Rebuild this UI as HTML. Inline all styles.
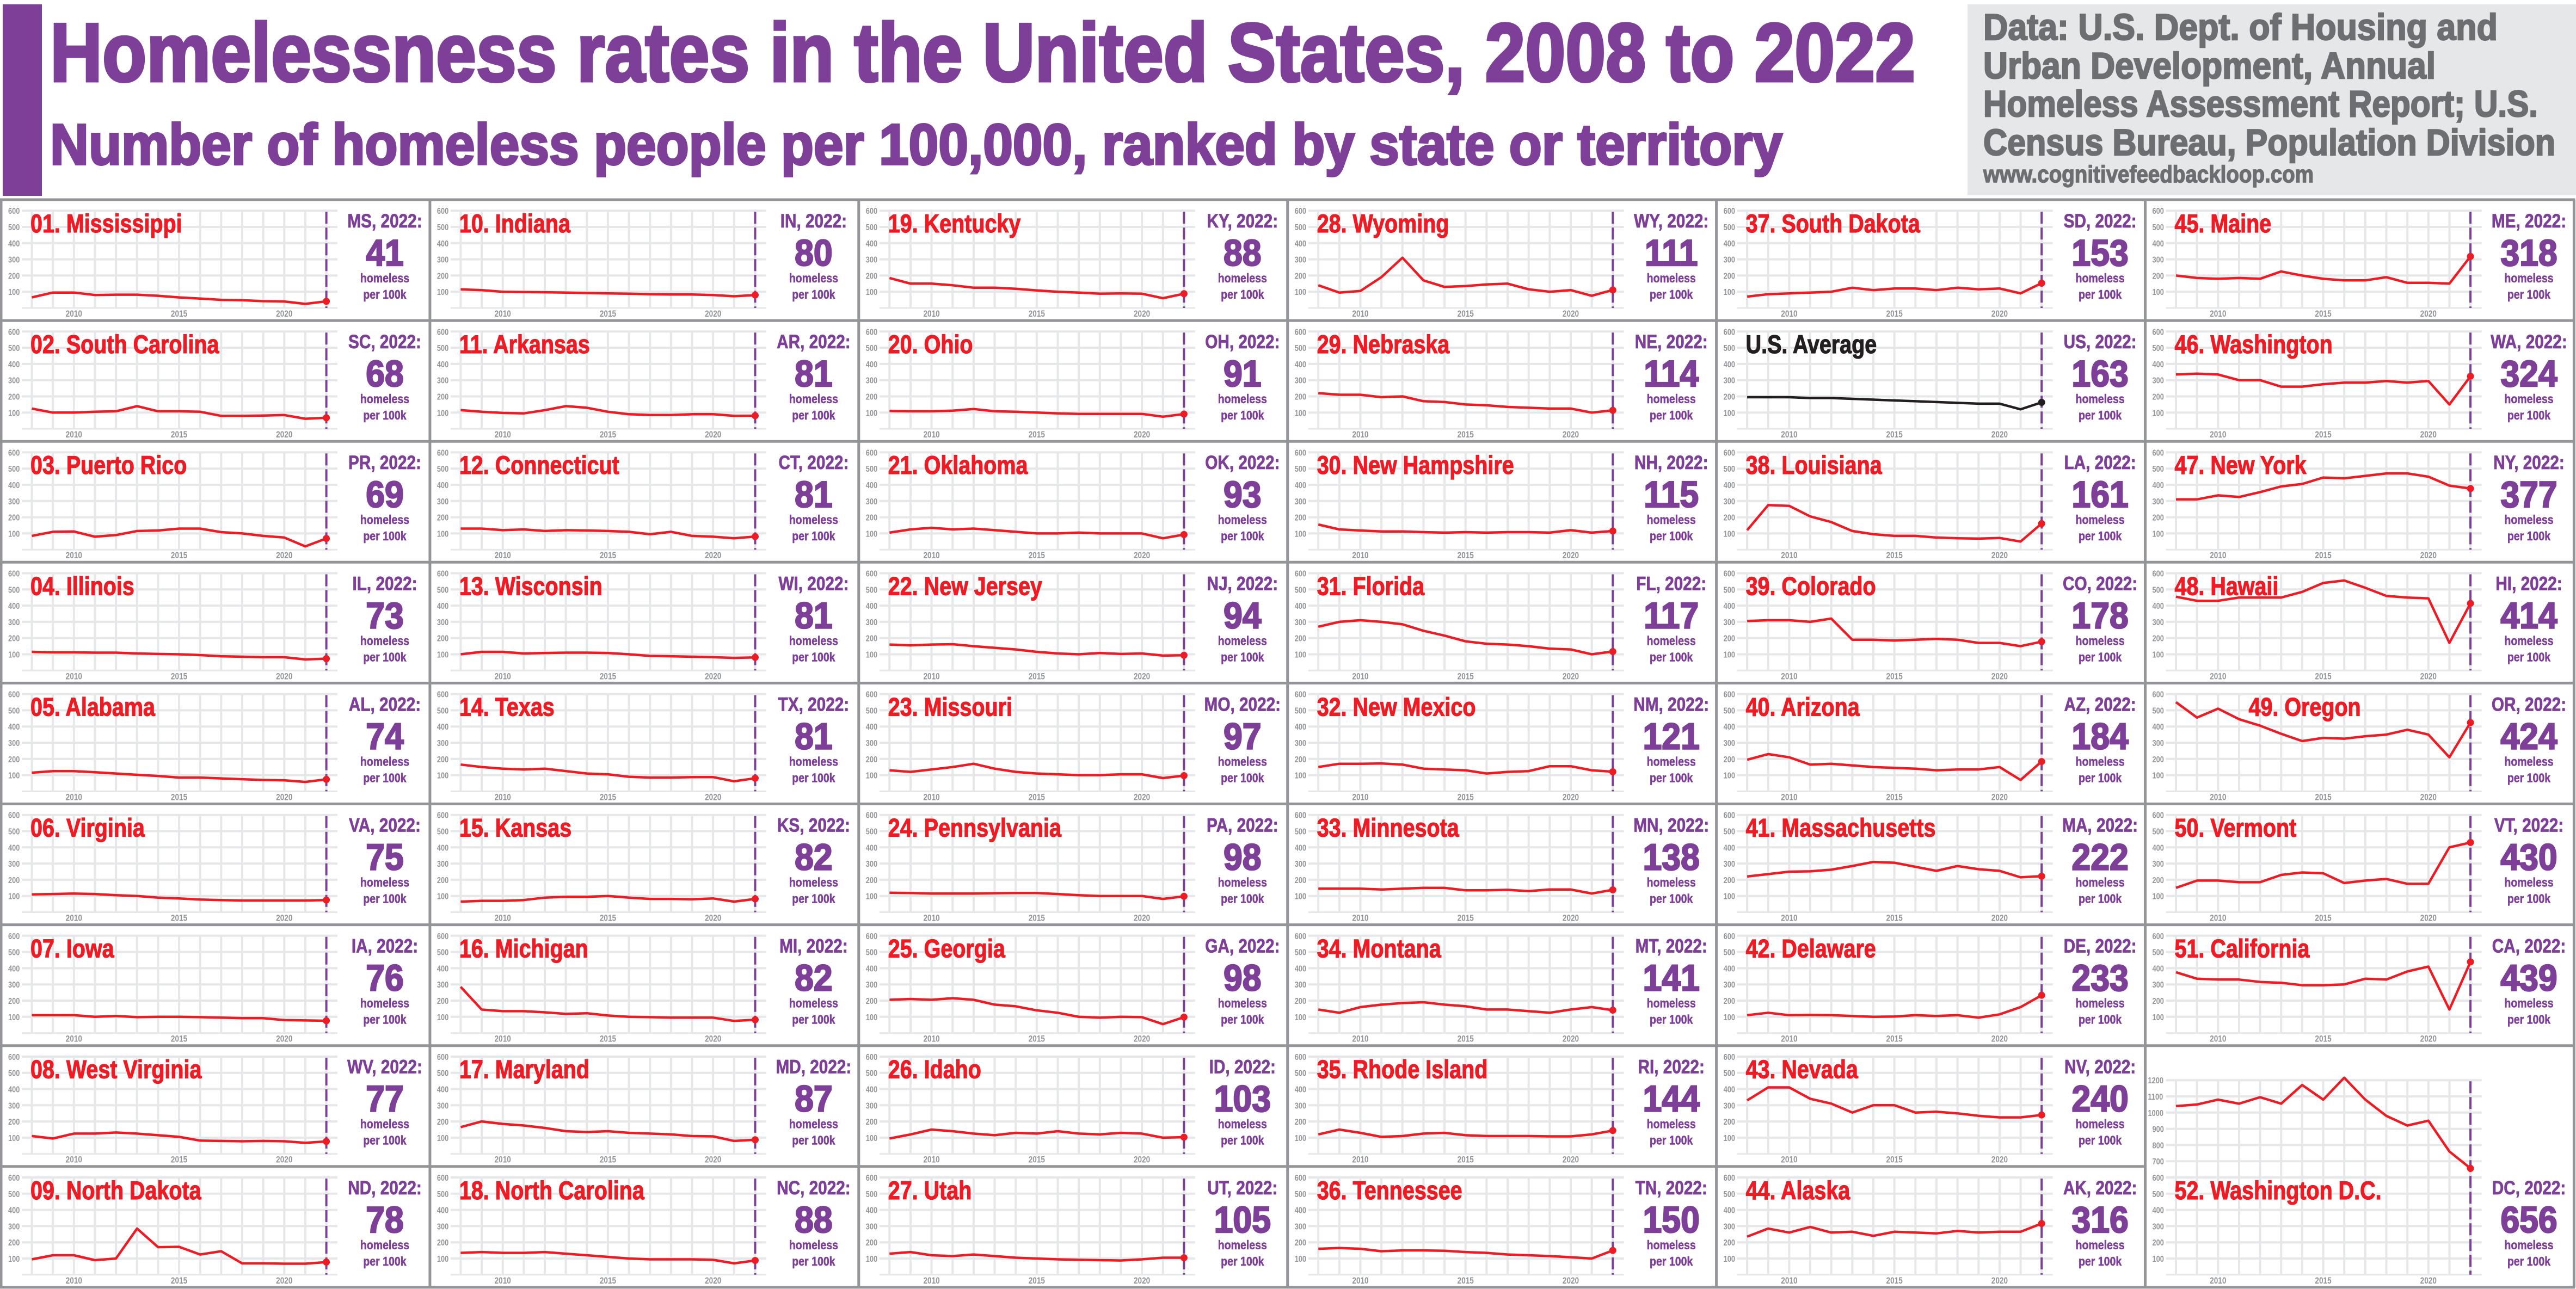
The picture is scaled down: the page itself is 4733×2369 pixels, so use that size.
<!DOCTYPE html>
<html><head><meta charset="utf-8"><style>
html,body{margin:0;padding:0;background:#fff;}
svg{display:block;}
text{font-family:"Liberation Sans",sans-serif;font-weight:bold;}
</style></head><body>
<svg id="s" xmlns="http://www.w3.org/2000/svg" width="4733" height="2369" viewBox="0 0 4733 2369">
<rect x="0" y="0" width="4733" height="2369" fill="#fff"/>
<rect x="5" y="8" width="72" height="352" fill="#7d3f98"/>
<text x="92" y="149" font-size="152" fill="#7d3f98" stroke="#7d3f98" stroke-width="5" textLength="3427" lengthAdjust="spacingAndGlyphs">Homelessness rates in the United States, 2008 to 2022</text>
<text x="92" y="302" font-size="106" fill="#7d3f98" stroke="#7d3f98" stroke-width="4" textLength="3183" lengthAdjust="spacingAndGlyphs">Number of homeless people per 100,000, ranked by state or territory</text>
<rect x="3615" y="8" width="1118" height="351" fill="#e6e7e8"/>
<g fill="#6d6e71" stroke="#6d6e71" stroke-width="2.5">
<text x="3644" y="73" font-size="68" textLength="945" lengthAdjust="spacingAndGlyphs">Data: U.S. Dept. of Housing and</text>
<text x="3644" y="144" font-size="68" textLength="831" lengthAdjust="spacingAndGlyphs">Urban Development, Annual</text>
<text x="3644" y="214" font-size="68" textLength="1019" lengthAdjust="spacingAndGlyphs">Homeless Assessment Report; U.S.</text>
<text x="3644" y="285" font-size="68" textLength="1051" lengthAdjust="spacingAndGlyphs">Census Bureau, Population Division</text>
<text x="3644" y="335" font-size="44" stroke-width="1.5" textLength="607" lengthAdjust="spacingAndGlyphs">www.cognitivefeedbackloop.com</text>
</g>
<g id="g"></g>
</svg>
<script>
var NS="http://www.w3.org/2000/svg",G=document.getElementById("g");
function el(t,a,txt){var e=document.createElementNS(NS,t);for(var k in a)e.setAttribute(k,a[k]);if(txt!==undefined)e.textContent=txt;G.appendChild(e);return e;}
function tx(x,y,s,fill,str,anchor,sx,sw){var a={transform:"translate("+x+","+y+") scale("+(sx||0.85)+",1)","font-size":s,fill:fill,"text-anchor":anchor||"start"};if(sw){a.stroke=fill;a["stroke-width"]=sw;}el("text",a,str);}
var P="#7d3f98",R="#ed1c24",GR="#e6e7e8",LB="#939598";
var D=[
["01. Mississippi","MS",41,[65,95,95,80,82,82,75,65,58,50,48,42,40,25,41]],
["02. South Carolina","SC",68,[125,100,100,105,108,140,108,108,105,80,80,82,85,62,68]],
["03. Puerto Rico","PR",69,[85,110,112,80,90,115,118,130,130,108,100,85,75,20,69]],
["04. Illinois","IL",73,[115,112,112,110,110,105,102,100,95,88,85,82,82,68,73]],
["05. Alabama","AL",74,[115,125,125,118,110,102,95,85,85,80,75,70,68,58,74]],
["06. Virginia","VA",75,[110,112,115,112,105,100,90,85,78,75,72,72,72,72,75]],
["07. Iowa","IA",76,[110,110,110,100,105,98,100,100,98,95,92,92,80,78,76]],
["08. West Virginia","WV",77,[110,95,125,125,132,125,115,105,82,80,78,80,78,68,77]],
["09. North Dakota","ND",78,[95,120,120,90,100,285,170,172,125,145,70,70,68,68,78]],
["10. Indiana","IN",80,[115,110,100,98,97,95,92,90,88,85,83,83,80,72,80]],
["11. Arkansas","AR",81,[115,105,98,95,115,140,130,105,90,85,85,90,90,80,81]],
["12. Connecticut","CT",81,[130,130,120,125,115,120,118,115,110,95,110,85,80,70,81]],
["13. Wisconsin","WI",81,[100,115,115,105,108,110,110,108,100,90,88,85,82,78,81]],
["14. Texas","TX",81,[165,150,140,135,140,125,110,105,90,85,85,88,88,62,81]],
["15. Kansas","KS",82,[65,70,70,75,90,95,95,100,90,82,82,80,85,65,82]],
["16. Michigan","MI",82,[285,145,135,135,128,118,122,108,100,98,95,95,95,75,82]],
["17. Maryland","MD",87,[165,200,185,175,160,140,135,140,130,125,120,110,108,80,87]],
["18. North Carolina","NC",88,[135,140,135,135,140,130,120,110,100,95,95,95,92,70,88]],
["19. Kentucky","KY",88,[185,150,150,140,125,125,118,108,100,95,88,90,88,60,88]],
["20. Ohio","OH",91,[110,108,108,112,122,108,105,100,95,92,92,92,92,75,91]],
["21. Oklahoma","OK",93,[105,125,135,125,130,120,110,100,100,105,100,100,100,70,93]],
["22. New Jersey","NJ",94,[160,155,160,162,150,140,130,115,105,100,108,102,105,92,94]],
["23. Missouri","MO",97,[130,120,135,150,170,140,120,110,105,100,100,105,105,82,97]],
["24. Pennsylvania","PA",98,[120,118,115,115,115,117,118,118,112,105,100,100,100,82,98]],
["25. Georgia","GA",98,[205,210,205,215,205,175,165,140,125,100,95,100,98,55,98]],
["26. Idaho","ID",103,[95,120,150,140,125,115,130,125,140,125,120,130,125,100,103]],
["27. Utah","UT",105,[130,140,120,115,125,115,105,100,95,92,90,88,95,105,105]],
["28. Wyoming","WY",111,[140,95,105,190,310,170,130,135,145,150,115,100,110,75,111]],
["29. Nebraska","NE",114,[220,210,210,195,200,170,165,150,145,135,130,125,125,100,114]],
["30. New Hampshire","NH",115,[155,125,118,112,112,108,105,108,105,108,108,105,120,105,115]],
["31. Florida","FL",117,[270,300,310,300,285,245,215,180,165,160,150,135,130,100,117]],
["32. New Mexico","NM",121,[150,170,170,172,165,140,135,130,110,120,125,155,155,130,121]],
["33. Minnesota","MN",138,[145,145,145,140,145,150,150,135,135,138,130,140,140,115,138]],
["34. Montana","MT",141,[145,125,160,175,185,190,175,165,145,145,135,125,145,160,141]],
["35. Rhode Island","RI",144,[120,150,130,105,110,125,130,115,110,110,110,108,108,120,144]],
["36. Tennessee","TN",150,[160,165,160,145,150,150,148,140,135,125,120,115,108,100,150]],
["37. South Dakota","SD",153,[70,85,90,95,100,125,110,120,120,110,125,115,120,90,153]],
["U.S. Average","US",163,[195,195,195,190,190,185,180,175,170,165,160,155,155,120,163]],
["38. Louisiana","LA",161,[120,275,270,205,170,115,95,85,85,75,70,68,72,50,161]],
["39. Colorado","CO",178,[305,310,310,300,320,190,190,185,190,195,190,170,170,150,178]],
["40. Arizona","AZ",184,[195,230,210,165,170,160,150,145,140,130,135,135,150,70,184]],
["41. Massachusetts","MA",222,[220,235,250,252,262,285,310,305,280,255,285,265,255,215,222]],
["42. Delaware","DE",233,[110,125,110,112,110,105,100,102,110,105,110,95,115,160,233]],
["43. Nevada","NV",240,[330,410,410,340,310,255,300,300,255,260,250,235,225,225,240]],
["44. Alaska","AK",316,[235,285,260,295,260,265,240,265,260,255,270,260,265,265,316]],
["45. Maine","ME",318,[200,185,180,185,180,225,200,180,170,170,190,155,155,150,318]],
["46. Washington","WA",324,[335,340,335,300,300,260,260,275,285,285,295,285,295,150,324]],
["47. New York","NY",377,[310,310,335,325,355,390,405,445,440,455,470,470,450,395,377]],
["48. Hawaii","HI",414,[455,430,430,450,450,450,485,540,555,510,460,450,445,170,414]],
["49. Oregon","OR",424,[550,455,510,445,405,355,310,330,325,340,350,380,350,210,424]],
["50. Vermont","VT",430,[150,195,195,185,185,230,245,240,180,195,205,175,175,400,430]],
["51. California","CA",439,[375,335,330,330,315,310,295,295,300,335,330,380,410,145,439]],
["52. Washington D.C.","DC",656,[1040,1050,1080,1055,1095,1055,1170,1080,1215,1080,980,920,950,760,656]]
];
function colX(c){return 2+c*787.9;}
function rowY(r){return 367+r*222.1;}
function cell(d,c,r,opt){
  opt=opt||{};
  var ox=colX(c),oy=rowY(r),max=opt.max||600;
  function X(y){return ox+56.5+(y-2008)*38.65;}
  function Y(v){return oy+199-v*0.298;}
  for(var y=2008;y<=2022;y++) el("line",{x1:X(y),x2:X(y),y1:Y(max),y2:Y(0),stroke:GR,"stroke-width":4});
  for(var v=0;v<=max;v+=100) el("line",{x1:ox+38,x2:ox+618,y1:Y(v),y2:Y(v),stroke:GR,"stroke-width":v==0?3:4});
  for(var v=100;v<=max;v+=100) tx(ox+(v>=1000?5:13),Y(v)+6,16,LB,""+v,"start",0.8);
  [2010,2015,2020].forEach(function(y){tx(X(y),oy+215,17,LB,""+y,"middle",0.8);});
  el("line",{x1:X(2022),x2:X(2022),y1:Y(max)+2,y2:Y(0),stroke:P,"stroke-width":4,"stroke-dasharray":"22 7"});
  var pts=d[3].map(function(v,i){return X(2008+i).toFixed(1)+","+Y(v).toFixed(1);}).join(" ");
  var col=opt.black?"#231f20":R;
  el("polyline",{points:pts,fill:"none",stroke:col,"stroke-width":4.5,"stroke-linejoin":"round"});
  el("circle",{cx:X(2022),cy:Y(d[3][14]),r:6.5,fill:col});
  var ty=opt.titleRow!==undefined?rowY(opt.titleRow):oy;
  tx(ox+(opt.tx||54),ty+60,47,opt.black?"#231f20":R,d[0],"start",0.84,1.2);
  tx(ox+705,ty+51,35,P,d[1]+", 2022:","middle",0.85,0.8);
  tx(ox+705,ty+121,68,P,""+d[2],"middle",0.92,2.5);
  tx(ox+705,ty+152,23,P,"homeless","middle",0.85,0.5);
  tx(ox+705,ty+182,23,P,"per 100k","middle",0.85,0.5);
}
var order=[];
for(var c=0;c<4;c++)for(var r=0;r<9;r++)order.push([c,r]);
for(var i=0;i<36;i++){cell(D[i],order[i][0],order[i][1]);}
for(var r=0;r<9;r++){var d=D[36+r];cell(d,4,r,{black:d[1]=="US"});}
for(var r=0;r<7;r++){var d=D[45+r];cell(d,5,r,{tx:d[1]=="OR"?190:54});}
cell(D[52],5,8,{max:1200});
var B="#939598";
for(var c=0;c<=6;c++) el("line",{x1:colX(c),x2:colX(c),y1:rowY(0),y2:rowY(9),stroke:B,"stroke-width":5});
for(var r=0;r<=9;r++){
  if(r==8){el("line",{x1:colX(0),x2:colX(5),y1:rowY(r),y2:rowY(r),stroke:B,"stroke-width":5});}
  else el("line",{x1:colX(0)-2,x2:colX(6)+2,y1:rowY(r),y2:rowY(r),stroke:B,"stroke-width":5});
}
</script>
</body></html>
